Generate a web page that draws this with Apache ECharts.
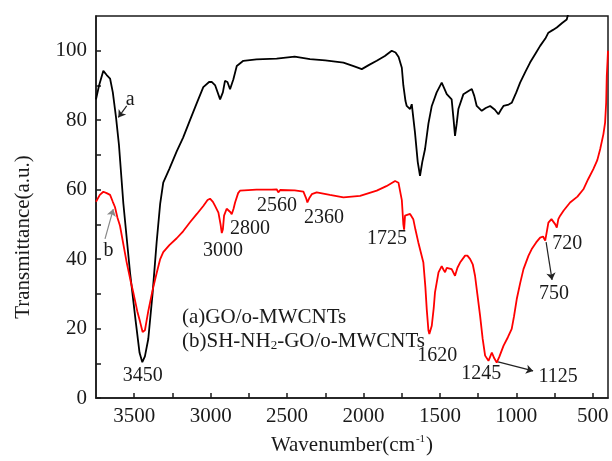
<!DOCTYPE html>
<html>
<head>
<meta charset="utf-8">
<script src="https://cdn.jsdelivr.net/npm/echarts@6/dist/echarts.min.js"></script>
<style>
  html, body { margin: 0; padding: 0; background: #fff; }
  #chart { width: 612px; height: 461px; }
</style>
</head>
<body>
<div id="chart"></div>
<script>
// spectrum (a) GO/o-MWCNTs
let wnA = [3750, 3730, 3702, 3680, 3658, 3640, 3619, 3600, 3571, 3527, 3490, 3465, 3447, 3430, 3408, 3380, 3353, 3330, 3310, 3270,
  3222, 3180, 3135, 3090, 3048, 3010, 2993, 2970, 2938, 2920, 2906, 2890, 2873, 2862, 2851, 2829, 2786, 2700, 2568, 2450,
  2350, 2250, 2131, 2060, 2011, 1960, 1913, 1860, 1815, 1790, 1770, 1749, 1739, 1725, 1717, 1695, 1684, 1663, 1645, 1630,
  1615, 1597, 1575, 1553, 1521, 1488, 1470, 1455, 1423, 1410, 1401, 1390, 1379, 1346, 1310, 1291, 1275, 1259, 1226, 1200,
  1171, 1140, 1117, 1100, 1084, 1050, 1030, 1000, 975, 940, 910, 870, 844, 810, 790, 760, 735, 700, 670, 655]
let tA = [86, 90, 94.2, 93, 92, 88, 80.8, 73, 56, 36, 22, 13, 10.3, 12, 17, 30, 45, 56, 62, 66,
  71, 75, 80, 85, 89.5, 91, 91, 90, 86, 88, 91.3, 91, 88.9, 89.4, 91.8, 95.6, 97.1, 97.5, 97.7, 98.3,
  97.6, 97.2, 96.6, 95.5, 94.7, 96, 97.1, 98.5, 100, 99.5, 98.2, 95.1, 90, 85.5, 84.1, 83.2, 84.6, 76.5, 68, 64,
  68, 71.7, 79, 84.1, 88, 90.8, 89, 87.5, 86, 80, 75.5, 79, 83.2, 87.5, 88.5, 89, 87, 84.1, 82.7, 83.5,
  84.1, 83, 81.7, 83, 84.1, 84.5, 85, 88, 90.8, 94, 96.6, 99.5, 101.4, 103.5, 105.2, 106, 106.7, 108, 109, 111.5]

// spectrum (b) SH-NH2-GO/o-MWCNTs
let wnB = [3750, 3725, 3702, 3680, 3658, 3640, 3626, 3610, 3593, 3570, 3549, 3525, 3506, 3480, 3462, 3445, 3430, 3408, 3380, 3353,
  3330, 3310, 3270, 3222, 3180, 3135, 3090, 3048, 3020, 3004, 2985, 2971, 2949, 2935, 2927, 2920, 2912, 2895, 2884, 2870,
  2862, 2850, 2840, 2820, 2808, 2700, 2600, 2568, 2557, 2545, 2450, 2393, 2375, 2367, 2355, 2338, 2306, 2220, 2131, 2022,
  1913, 1850, 1793, 1771, 1760, 1749, 1739, 1734, 1728, 1717, 1695, 1674, 1660, 1641, 1608, 1595, 1586, 1575, 1569, 1553,
  1540, 1532, 1509, 1488, 1477, 1466, 1455, 1444, 1423, 1401, 1385, 1368, 1335, 1320, 1302, 1285, 1270, 1255, 1237, 1220,
  1204, 1182, 1170, 1160, 1145, 1128, 1110, 1084, 1055, 1030, 1015, 997, 975, 953, 920, 899, 870, 844, 825, 811,
  800, 790, 770, 757, 745, 735, 725, 713, 690, 648, 600, 561, 530, 496, 470, 451, 430, 419, 412, 408,
  403, 400]
let tB = [56.5, 58.5, 59.4, 59, 58.5, 56.5, 55, 52, 49.6, 44, 39, 34, 30.4, 25, 22, 19, 19.5, 25, 31, 36,
  40, 42, 44, 46, 48, 50.6, 53, 55.3, 57, 57.4, 56.5, 55.3, 53.4, 50, 47.5, 48.5, 52.5, 54.5, 54.9, 53.5,
  52.9, 54.5, 56.3, 59, 59.7, 60, 60, 60.1, 59.2, 59.9, 59.8, 59.4, 57.5, 56.3, 57.5, 58.7, 59.2, 58.5, 57.8, 58.2,
  59.7, 61, 62.5, 62, 61.5, 57, 50, 48.5, 52.5, 52.5, 53, 51.5, 48.5, 44.8, 39, 32, 25.6, 19.5, 18.4, 20.8,
  26, 30.4, 36.2, 38, 37, 36.2, 37.5, 38, 37.1, 35.2, 37.5, 39, 41, 41, 40, 38.5, 35.2, 30, 23.7, 17,
  12.2, 10.7, 12, 13.1, 11.5, 10.2, 12, 15, 17.5, 19.9, 23.5, 28.5, 33, 37.1, 41, 42.9, 44.8, 46.2, 46.5, 45.3,
  48, 50.5, 51.5, 51.5, 50, 49.1, 51.5, 52.5, 54, 56.3, 58, 60.1, 63, 65.9, 68.5, 71.7, 76, 79.3, 85, 92.7,
  97, 100]

// peak labels
let peakNames = ['3450', '3000', '2800', '2560', '2360', '1725', '1620', '1245', '1125', '720', '750', 'a', 'b']
let peakWn = [3444, 2919, 2742, 2565, 2258, 1846, 1518, 1230, 726, 667, 753, 3527, 3669]
let peakT = [6.4, 42.3, 48.6, 55.3, 51.8, 45.8, 12.1, 6.9, 6.0, 44.3, 29.9, 86, 42.4]

// leader arrows: [fromWn, fromT, toWn, toT, colour]
let arrows = [
  [3549, 84.1, 3604, 80.8, '#222'],
  [3691, 45.8, 3637, 54.4, '#888'],
  [1119, 10.4, 890, 7.8, '#222'],
  [805, 44.9, 766, 34, '#222']
]

let xLabels = [500, 1000, 1500, 2000, 2500, 3000, 3500]
let xTicks = [500, 750, 1000, 1250, 1500, 1750, 2000, 2250, 2500, 2750, 3000, 3250, 3500]
let yLabels = [0, 20, 40, 60, 80, 100]
let yTicks = [0, 10, 20, 30, 40, 50, 60, 70, 80, 90, 100]

let nameA = '(a)GO/o-MWCNTs'
let nameB = '(b)SH-NH₂-GO/o-MWCNTs'

const font = 'Liberation Serif'
const ink = '#1a1a1a'

let myChart = echarts.init(document.getElementById('chart'))

let option = {
  animation: false,
  backgroundColor: '#fff',
  grid: {
    left: 96,
    right: 4,
    top: 16,
    bottom: 62,
    show: true,
    borderColor: ink,
    borderWidth: 1.5
  },
  legend: {
    orient: 'vertical',
    left: 172,
    top: 302,
    itemWidth: 0,
    itemHeight: 14,
    itemGap: 3,
    selectedMode: false,
    data: [{ name: nameA, icon: 'none' }, { name: nameB, icon: 'none' }],
    formatter: function (name) {
      if (name === nameB) return '(b)SH-NH{sub|2}-GO/o-MWCNTs'
      return name
    },
    textStyle: {
      fontFamily: font,
      fontSize: 21,
      color: ink,
      rich: {
        sub: { fontFamily: font, fontSize: 13, color: ink, verticalAlign: 'bottom', padding: [8, 0, 0, 0] }
      }
    }
  },
  xAxis: {
    type: 'value',
    inverse: true,
    min: 400,
    max: 3750,
    name: 'Wavenumber(cm{sup|-1})',
    nameLocation: 'middle',
    nameGap: 36,
    nameTextStyle: {
      fontFamily: font,
      fontSize: 21,
      color: ink,
      rich: {
        sup: { fontFamily: font, fontSize: 11, color: ink, verticalAlign: 'top', padding: [0, 1, 12, 1] }
      }
    },
    axisLine: { onZero: false, lineStyle: { color: ink, width: 1.5 } },
    axisTick: { inside: true, length: 5, customValues: xTicks, lineStyle: { color: ink, width: 1.5 } },
    axisLabel: {
      customValues: xLabels,
      margin: 8,
      fontFamily: font,
      fontSize: 21,
      color: ink,
      formatter: function (v) { return String(v) }
    },
    splitLine: { show: false }
  },
  yAxis: {
    type: 'value',
    min: 0,
    max: 110,
    name: 'Transmittance(a.u.)',
    nameLocation: 'middle',
    nameGap: 62,
    nameTextStyle: { fontFamily: font, fontSize: 21, color: ink, padding: [0, 60, 0, 0] },
    axisLine: { onZero: false, lineStyle: { color: ink, width: 1.5 } },
    axisTick: { inside: true, length: 5, customValues: yTicks, lineStyle: { color: ink, width: 1.5 } },
    axisLabel: {
      customValues: yLabels,
      margin: 9,
      fontFamily: font,
      fontSize: 21,
      color: ink,
      formatter: function (v) { return String(v) }
    },
    splitLine: { show: false }
  },
  series: [
    {
      name: nameA,
      type: 'line',
      showSymbol: false,
      clip: true,
      data: wnA.map((w, i) => [w, tA[i]]),
      lineStyle: { color: '#000', width: 1.8 },
      itemStyle: { color: '#000' },
      markPoint: {
        silent: true,
        symbol: 'circle',
        symbolSize: 1,
        itemStyle: { color: 'rgba(0,0,0,0)' },
        label: {
          show: true,
          position: 'inside',
          formatter: '{b}',
          fontFamily: font,
          fontSize: 20,
          color: ink
        },
        data: peakNames.map((n, i) => ({ name: n, coord: [peakWn[i], peakT[i]] }))
      },
      markLine: {
        silent: true,
        symbol: ['none', 'arrow'],
        symbolSize: 7,
        label: { show: false },
        data: arrows.map(a => [
          { coord: [a[0], a[1]], lineStyle: { color: a[4], width: 1.2, type: 'solid' }, itemStyle: { color: a[4] } },
          { coord: [a[2], a[3]] }
        ])
      }
    },
    {
      name: nameB,
      type: 'line',
      showSymbol: false,
      clip: true,
      data: wnB.map((w, i) => [w, tB[i]]),
      lineStyle: { color: '#ff0000', width: 1.8 },
      itemStyle: { color: '#ff0000' }
    }
  ]
}

myChart.setOption(option)
</script>
</body>
</html>
